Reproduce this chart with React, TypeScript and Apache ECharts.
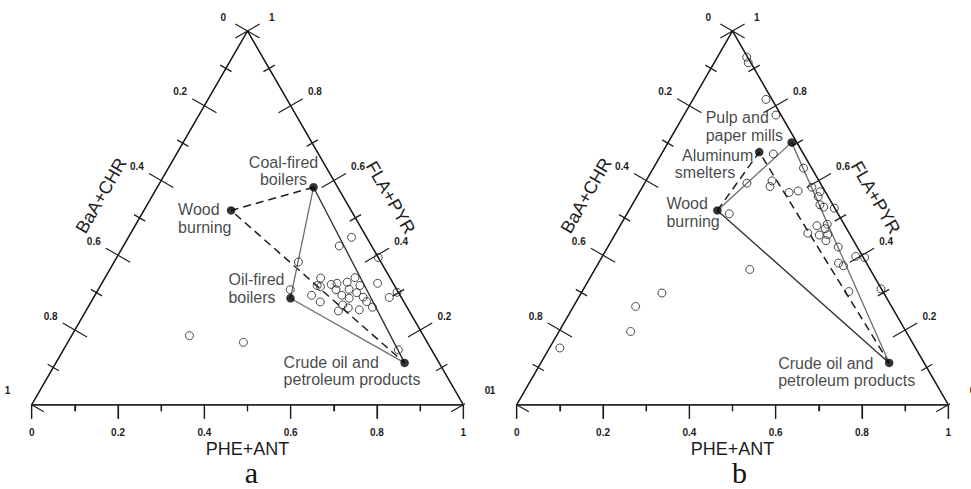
import React, { useEffect, useRef } from "react";
import * as echarts from "echarts";

const H = Math.sqrt(3) / 2;

// Ternary compositions: PHE+ANT fraction and FLA+PYR fraction
// (BaA+CHR is the remainder 1 - PHE+ANT - FLA+PYR)
const samplesA_pheAnt = [0.517, 0.5, 0.606, 0.427, 0.5, 0.579, 0.567, 0.545, 0.533, 0.601, 0.502, 0.511, 0.639, 0.445, 0.581, 0.603, 0.551, 0.572, 0.696, 0.502, 0.624, 0.593, 0.685, 0.638, 0.531, 0.587, 0.659, 0.604, 0.585, 0.632, 0.776, 0.273, 0.407];
const samplesA_flaPyr = [0.448, 0.425, 0.394, 0.382, 0.339, 0.34, 0.328, 0.325, 0.322, 0.319, 0.319, 0.316, 0.325, 0.308, 0.309, 0.3, 0.308, 0.293, 0.301, 0.293, 0.288, 0.285, 0.287, 0.276, 0.275, 0.267, 0.261, 0.259, 0.251, 0.254, 0.147, 0.185, 0.167];

const samplesB_pheAnt = [0.068, 0.079, 0.169, 0.213, 0.259, 0.348, 0.237, 0.292, 0.295, 0.347, 0.366, 0.393, 0.418, 0.42, 0.435, 0.447, 0.473, 0.237, 0.456, 0.479, 0.478, 0.445, 0.474, 0.493, 0.497, 0.534, 0.587, 0.609, 0.556, 0.571, 0.359, 0.618, 0.689, 0.187, 0.144, 0.166, 0.024];
const samplesB_flaPyr = [0.93, 0.915, 0.817, 0.775, 0.671, 0.633, 0.593, 0.599, 0.584, 0.568, 0.572, 0.582, 0.57, 0.557, 0.535, 0.529, 0.526, 0.511, 0.479, 0.471, 0.483, 0.459, 0.454, 0.455, 0.439, 0.422, 0.397, 0.394, 0.379, 0.372, 0.362, 0.303, 0.31, 0.299, 0.263, 0.196, 0.152];

const sourcesA_names = ["Coal-fired\nboilers", "Wood\nburning", "Oil-fired\nboilers", "Crude oil and\npetroleum products"];
const sourcesA_pheAnt = [0.362, 0.202, 0.457, 0.808];
const sourcesA_flaPyr = [0.582, 0.52, 0.285, 0.112];

const sourcesB_names = ["Pulp and\npaper mills", "Aluminum\nsmelters", "Wood\nburning", "Crude oil and\npetroleum products"];
const sourcesB_pheAnt = [0.286, 0.224, 0.205, 0.807];
const sourcesB_flaPyr = [0.702, 0.676, 0.52, 0.112];

// mixing lines between sources (indices into the source lists)
const linesA_dashed = [0, 1, 3];
const linesA_gray = [0, 2, 3];
const linesA_black = [0, 3];
const linesB_dashed = [2, 1, 3];
const linesB_gray = [2, 0, 3];
const linesB_black = [2, 3];

const tickValues = [0, 0.1, 0.2, 0.3, 0.4, 0.5, 0.6, 0.7, 0.8, 0.9, 1];
const tickLabels = ["0", "0.2", "0.4", "0.6", "0.8", "1"];
const axisTitles = ["PHE+ANT", "BaA+CHR", "FLA+PYR"];
const panelLetters = ["a", "b"];

// styling / layout (not data)
const FONT = '"Liberation Sans", Arial, sans-serif';
const INK = "#1e1e1e";
const GRID_LEFT = [31.7, 516.7];
const GRID_TOP = 31;
const GRID_W = 431.6;
// outward normals in screen pixels (y down)
const NORMALS = [
  [0, 1],
  [-0.866, -0.5],
  [0.866, -0.5],
];
const TITLE_DIST = [44, 44.5, 40.5];
const TITLE_ROT = [0, Math.PI / 3, -Math.PI / 3];
const MAJOR_LEN = 14;
const MINOR_LEN = 6.5;
const LABEL_DIST = 28;

const labelLayoutA = [
  { align: "center", offset: [-30, -16] },
  { align: "left", offset: [-53, 8] },
  { align: "left", offset: [-62, -10] },
  { align: "left", offset: [-121, 8] },
];
const labelLayoutB = [
  { align: "left", offset: [-86, -16] },
  { align: "right", offset: [-6, 12], rich: true },
  { align: "left", offset: [-51, 2] },
  { align: "left", offset: [-111, 9] },
];

function toXY(pheAnt: number, flaPyr: number): number[] {
  return [pheAnt + flaPyr / 2, flaPyr * H];
}

function axisPoint(axis: number, v: number): number[] {
  if (axis === 0) return toXY(v, 0); // bottom: PHE+ANT = v
  if (axis === 1) return toXY(0, 1 - v); // left: BaA+CHR = v
  return toXY(1 - v, v); // right: FLA+PYR = v
}

function isMajor(v: number) {
  return Math.round(v * 10) % 2 === 0;
}

const tickStyle = {
  axisTick: { show: true, length: MAJOR_LEN, lineStyle: { color: INK, width: 1.2 } },
  minorTick: { show: true, splitNumber: 2, length: MINOR_LEN, lineStyle: { color: INK, width: 1.2 } },
};

function buildPanel(
  i: number,
  sPhe: number[],
  sFla: number[],
  srcNames: string[],
  srcPhe: number[],
  srcFla: number[],
  layout: any[],
  dashed: number[],
  gray: number[],
  black: number[]
): any[] {
  const base = { xAxisIndex: i, yAxisIndex: i, silent: true, animation: false };
  const srcXY = srcPhe.map((p, k) => toXY(p, srcFla[k]));
  const polySeries = (pts: number[][], color: string, width: number, type: any, z: number) => ({
    ...base,
    type: "line",
    data: pts,
    symbol: "none",
    showSymbol: false,
    clip: false,
    z,
    lineStyle: { color, width, type, join: "bevel", cap: "butt" },
  });
  const vertices = [toXY(0, 0), toXY(1, 0), toXY(0, 1), toXY(0, 0)];

  const comb: number[][] = [];
  const tickData: number[][] = [];
  for (const a of [0, 2, 1]) {
    for (const v of tickValues) {
      const p0 = axisPoint(a, v);
      const len = (isMajor(v) ? MAJOR_LEN : MINOR_LEN) / GRID_W;
      const n = NORMALS[a];
      comb.push(p0, [p0[0] + n[0] * len, p0[1] - n[1] * len], p0);
      if (isMajor(v)) tickData.push([a, v]);
    }
  }

  return [
    polySeries(vertices, INK, 1.3, "solid", 2),
    polySeries(comb, INK, 1.2, "solid", 2),
    polySeries(dashed.map((k) => srcXY[k]), INK, 1.5, [8, 5], 3),
    polySeries(gray.map((k) => srcXY[k]), "#6e6e6e", 1.3, "solid", 3),
    polySeries(black.map((k) => srcXY[k]), "#2a2a2a", 1.3, "solid", 3),
    {
      ...base,
      type: "custom",
      clip: false,
      z: 4,
      data: tickData,
      renderItem: (params: any, api: any) => {
        const axis = api.value(0);
        const v = api.value(1);
        const pt = api.coord(axisPoint(axis, v));
        const n = NORMALS[axis];
        const step = Math.round(v * 10);
        return {
          type: "text",
          x: pt[0] + n[0] * LABEL_DIST,
          y: pt[1] + n[1] * LABEL_DIST,
          style: {
            text: tickLabels[step / 2],
            font: `bold 10px ${FONT}`,
            fill: INK,
            align: "center",
            verticalAlign: "middle",
            textAlign: "center",
            textVerticalAlign: "middle",
          },
        };
      },
    },
    {
      ...base,
      type: "custom",
      clip: false,
      z: 2,
      data: [
        [0, 0.5],
        [1, 0.5],
        [2, 0.5],
      ],
      renderItem: (params: any, api: any) => {
        const axis = api.value(0);
        const pt = api.coord(axisPoint(axis, api.value(1)));
        const n = NORMALS[axis];
        const d = TITLE_DIST[axis];
        return {
          type: "text",
          x: pt[0] + n[0] * d,
          y: pt[1] + n[1] * d,
          rotation: TITLE_ROT[axis],
          style: {
            text: axisTitles[axis],
            font: `18px ${FONT}`,
            fill: INK,
            align: "center",
            verticalAlign: "middle",
            textAlign: "center",
            textVerticalAlign: "middle",
          },
        };
      },
    },
    {
      ...base,
      type: "scatter",
      clip: false,
      z: 5,
      symbol: "circle",
      symbolSize: 8,
      itemStyle: { color: "rgba(255,255,255,0)", borderColor: INK, borderWidth: 1 },
      data: sPhe.map((p, k) => toXY(p, sFla[k])),
    },
    {
      ...base,
      type: "scatter",
      clip: false,
      z: 6,
      symbol: "circle",
      symbolSize: 8.5,
      itemStyle: { color: "#000" },
      data: srcXY.map((xy, k) => {
        const lay = layout[k];
        const name = srcNames[k];
        const parts = name.split("\n");
        return {
          value: xy,
          label: {
            show: true,
            position: "inside",
            formatter: lay.rich ? `{a|${parts[0]}}\n{b|${parts[1]}}` : name,
            align: lay.align,
            verticalAlign: "middle",
            offset: lay.offset,
            color: "#151515",
            fontFamily: FONT,
            fontSize: 16,
            lineHeight: 17.5,
            textBorderWidth: 0,
            rich: lay.rich
              ? {
                  a: { fontFamily: FONT, fontSize: 16, lineHeight: 17.5, color: "#151515" },
                  b: { fontFamily: FONT, fontSize: 16, lineHeight: 17.5, color: "#151515", padding: [0, 18, 0, 0] },
                }
              : undefined,
          },
        };
      }),
    },
  ];
}

export default function App() {
  const ref = useRef<HTMLDivElement>(null);
  useEffect(() => {
    if (!ref.current) return;
    const chart = echarts.init(ref.current, undefined, { renderer: "svg" });

    // slanted edges: a polar radius axis anchored at a triangle vertex, laid along the edge
    const polar: any[] = [];
    const angleAxis: any[] = [];
    const radiusAxis: any[] = [];
    GRID_LEFT.forEach((left) => {
      const anchors = [
        { center: [left + GRID_W / 2, GRID_TOP], angle: 240 }, // left edge: top -> bottom-left
        { center: [left + GRID_W, GRID_TOP + GRID_W * H], angle: 120 }, // right edge: bottom-right -> top
      ];
      anchors.forEach((an) => {
        const idx = polar.length;
        polar.push({ center: an.center, radius: GRID_W });
        angleAxis.push({ polarIndex: idx, type: "value", startAngle: an.angle, min: 0, max: 360, show: false });
        radiusAxis.push({
          polarIndex: idx,
          type: "value",
          min: 0,
          max: 1,
          interval: 0.2,
          axisLine: { show: false },
          axisLabel: { show: false },
          splitLine: { show: false },
          splitArea: { show: false },
          axisTick: { ...tickStyle.axisTick, inside: true },
          minorTick: tickStyle.minorTick,
          silent: true,
        });
      });
    });

    const option: any = {
      animation: false,
      backgroundColor: "#ffffff",
      grid: GRID_LEFT.map((left) => ({
        left,
        top: GRID_TOP,
        width: GRID_W,
        height: GRID_W * H,
        containLabel: false,
      })),
      xAxis: [0, 1].map((i) => ({
        type: "value",
        gridIndex: i,
        min: 0,
        max: 1,
        interval: 0.2,
        show: true,
        axisLine: { show: false },
        axisLabel: { show: false },
        splitLine: { show: false },
        axisTick: tickStyle.axisTick,
        minorTick: tickStyle.minorTick,
        silent: true,
      })),
      yAxis: [0, 1].map((i) => ({ type: "value", gridIndex: i, min: 0, max: H, show: false })),
      polar,
      angleAxis,
      radiusAxis,
      graphic: panelLetters.map((t, i) => ({
        type: "text",
        x: GRID_LEFT[i] + GRID_W / 2 + (i === 0 ? 4 : 7),
        y: 472.5,
        style: {
          text: t,
          font: '30px "Liberation Serif", "Times New Roman", serif',
          fill: "#111",
          align: "center",
          verticalAlign: "middle",
          textAlign: "center",
          textVerticalAlign: "middle",
        },
      })),
      series: [
        ...buildPanel(0, samplesA_pheAnt, samplesA_flaPyr, sourcesA_names, sourcesA_pheAnt, sourcesA_flaPyr, labelLayoutA, linesA_dashed, linesA_gray, linesA_black),
        ...buildPanel(1, samplesB_pheAnt, samplesB_flaPyr, sourcesB_names, sourcesB_pheAnt, sourcesB_flaPyr, labelLayoutB, linesB_dashed, linesB_gray, linesB_black),
      ],
    };
    chart.setOption(option);
    return () => chart.dispose();
  }, []);
  return (
    <div
      ref={ref}
      style={{ position: "absolute", left: 0, top: 0, width: 971, height: 489, background: "#fff" }}
    />
  );
}
